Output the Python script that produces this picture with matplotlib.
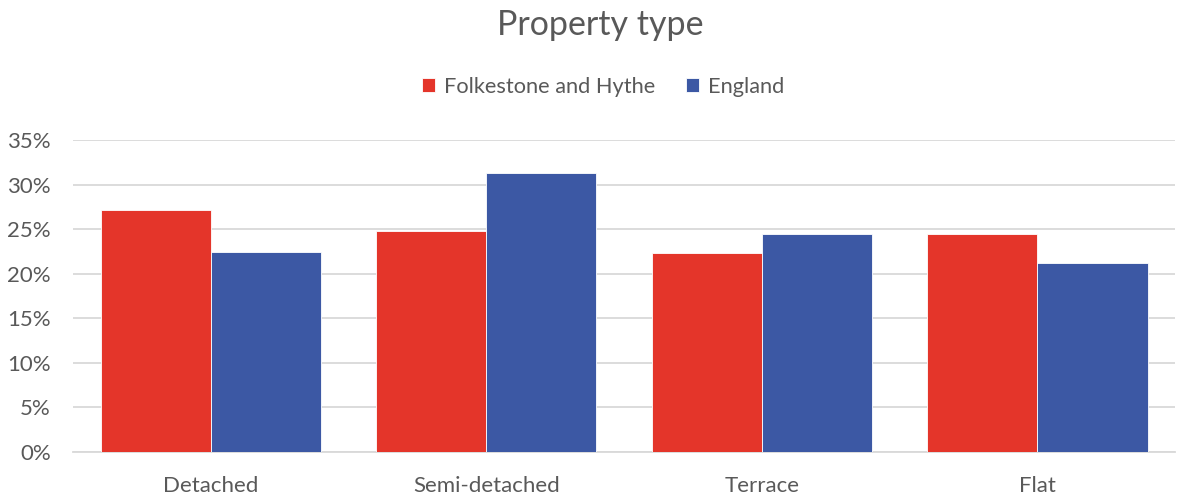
import numpy as np
from matplotlib import pyplot as plt
from matplotlib.ticker import FuncFormatter

# Data
categories = ['Detached', 'Semi-detached', 'Terrace', 'Flat']
folkestone = [27.2, 24.8, 22.3, 24.5]
england = [22.45, 31.3, 24.5, 21.2]
yticks = [0, 5, 10, 15, 20, 25, 30, 35]

red = '#E4352A'
blue = '#3C58A4'
grey = '#595959'

plt.rcParams['font.family'] = ['Lato', 'DejaVu Sans']

fig = plt.figure(figsize=(11.78, 4.97), dpi=100)
ax = fig.add_axes([0.062, 0.0905, 0.9355, 0.6275])

x = np.arange(len(categories))
w = 0.4
ax.bar(x - w/2, folkestone, w, color=red, edgecolor='white', linewidth=0.6, label='Folkestone and Hythe', zorder=3)
ax.bar(x + w/2, england, w, color=blue, edgecolor='white', linewidth=0.6, label='England', zorder=3)

ax.set_xlim(-0.5, len(categories) - 0.5)
ax.set_ylim(0, 35)
ax.set_yticks(yticks)
ax.yaxis.set_major_formatter(FuncFormatter(lambda v, p: '%d%%' % v))
ax.set_xticks(x)
ax.set_xticklabels(categories)
ax.grid(axis='y', color='#D9D9D9', linewidth=1.3, zorder=0)
for s in ['top', 'right', 'left']:
    ax.spines[s].set_visible(False)
ax.spines['bottom'].set_color('#D9D9D9')
ax.spines['bottom'].set_linewidth(1.3)
ax.tick_params(axis='both', length=0, labelsize=16, colors=grey)
ax.tick_params(axis='y', pad=16)
ax.tick_params(axis='x', pad=17)

fig.text(600/1178, 1 - 25/497, 'Property type', ha='center', va='center', fontsize=24.5, color=grey)
fig.legend(loc='center', bbox_to_anchor=(603/1178, 1 - 87/497), ncol=2, frameon=False,
           fontsize=15.7, labelcolor=grey, handlelength=0.6, handleheight=0.6,
           handletextpad=0.4, columnspacing=1.4)

plt.savefig('out.png', dpi=100)
